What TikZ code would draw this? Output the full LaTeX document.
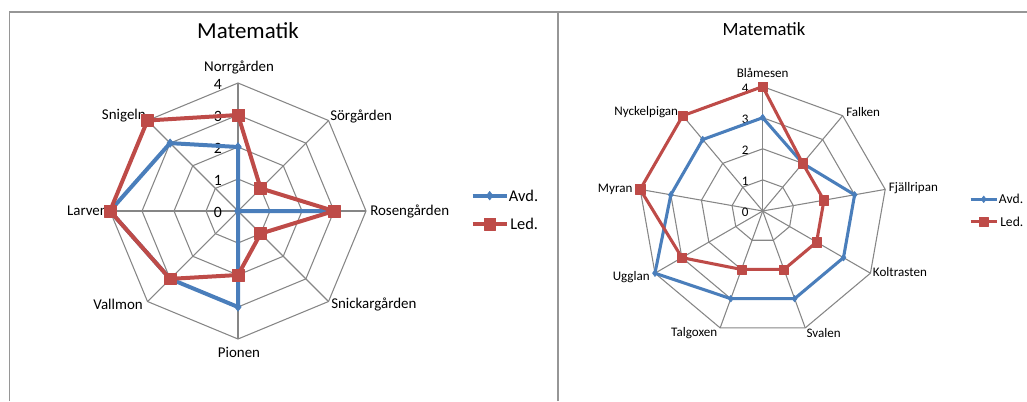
\documentclass[tikz,border=0pt]{standalone}
\usepackage{fontspec}
\setmainfont{Carlito}
\usetikzlibrary{plotmarks}

\definecolor{avdblue}{RGB}{74,126,187}
\definecolor{ledred}{RGB}{190,75,72}
\definecolor{webgray}{RGB}{134,134,134}
\definecolor{framegray}{RGB}{150,150,150}

\begin{document}
\begin{tikzpicture}[x=0.75pt, y=0.75pt,
    web/.style={webgray, line width=0.8pt},
    frameline/.style={framegray, line width=1pt},
    avdL/.style={avdblue, line width=3pt, line join=round, mark=diamond*, mark size=3.2pt, mark options={solid, line width=0.5pt, fill=avdblue}},
    ledL/.style={ledred, line width=3pt, line join=round, mark=square*, mark size=4.4pt, mark options={solid, line width=0.5pt, fill=ledred}},
    avdR/.style={avdblue, line width=2.3pt, line join=round, mark=diamond*, mark size=2.5pt, mark options={solid, line width=0.4pt, fill=avdblue}},
    ledR/.style={ledred, line width=2.3pt, line join=round, mark=square*, mark size=3.5pt, mark options={solid, line width=0.4pt, fill=ledred}},
    labL/.style={inner sep=0pt, font=\fontsize{11.2}{13}\selectfont},
    numL/.style={inner sep=0pt, anchor=east, font=\fontsize{11.8}{13}\selectfont},
    labR/.style={inner sep=0pt, font=\fontsize{9.8}{11}\selectfont},
    numR/.style={inner sep=0pt, anchor=east, font=\fontsize{9.8}{11}\selectfont},
    legL/.style={inner sep=0pt, anchor=west, font=\fontsize{12.3}{14}\selectfont},
    legR/.style={inner sep=0pt, anchor=west, font=\fontsize{10.2}{12}\selectfont}]

    \useasboundingbox (0,0) rectangle (1027,401);

    % ==========================================
    % 1. FRAME
    % ==========================================
    \draw[frameline] (9.5,0) -- (9.5,389) -- (1027,389);
    \draw[frameline] (558,0) -- (558,389);

    % ==========================================
    % 2. LEFT CHART (8 axes)
    % ==========================================
    \node[font=\fontsize{17.2}{19}\selectfont] (titleL) at (248,370) {Matematik};

    \begin{scope}[shift={(238,190)}]
        % web
        \foreach \k in {1,...,4} {
            \draw[web] (90:32*\k) \foreach \i in {1,...,7} { -- ({90-45*\i}:{32*\k}) } -- cycle;
        }
        \foreach \i in {0,...,7} {
            \draw[web] (0,0) -- ({90-45*\i}:128);
        }
        % scale
        \foreach \k in {0,...,4} {
            \node[numL] (scaleL\k) at (-16,{32*\k-1.5}) {\k};
        }
        % axis labels
        \node[labL] (norr)   at (1,144)       {Norrgården};
        \node[labL, anchor=west] (sor)    at (92,95)   {Sörgården};
        \node[labL, anchor=west] (rosen)  at (132,0)   {Rosengården};
        \node[labL, anchor=west] (snick)  at (93,-93)  {Snickargården};
        \node[labL] (pionen) at (1,-141)      {Pionen};
        \node[labL, anchor=east] (vallmon) at (-95,-93) {Vallmon};
        \node[labL, anchor=east] (larven)  at (-130,0)  {Larven};
        \node[labL, anchor=east] (snigeln) at (-92,95)  {Snigeln};

        % data
        \draw[avdL] plot coordinates {(90:64) (45:0) (0:96) (-45:0) (-90:96) (-135:96) (180:128) (135:96) (90:64)};
        \draw[ledL] plot coordinates {(90:96) (45:32) (0:96) (-45:32) (-90:64) (-135:96) (180:128) (135:128) (90:96)};
    \end{scope}

    % legend
    \coordinate (lavdA) at (472.7,205.3);
    \coordinate (lavdM) at (489.7,205.3);
    \coordinate (lavdB) at (506.7,205.3);
    \coordinate (lledA) at (472.7,176.7);
    \coordinate (lledM) at (489.7,176.7);
    \coordinate (lledB) at (506.7,176.7);
    \draw[avdL, mark indices={2}] plot coordinates {(lavdA) (lavdM) (lavdB)};
    \draw[ledL, mark indices={2}] plot coordinates {(lledA) (lledM) (lledB)};
    \node[legL] (lavdT) at (508.7,205.3) {Avd.};
    \node[legL] (lledT) at (510,176.7) {Led.};

    % ==========================================
    % 3. RIGHT CHART (9 axes)
    % ==========================================
    \node[font=\fontsize{14}{16}\selectfont] (titleR) at (764,372) {Matematik};

    \begin{scope}[shift={(762.7,190)}]
        % web
        \foreach \k in {1,...,4} {
            \draw[web] (90:31.1*\k) \foreach \i in {1,...,8} { -- ({90-40*\i}:{31.1*\k}) } -- cycle;
        }
        \foreach \i in {0,...,8} {
            \draw[web] (0,0) -- ({90-40*\i}:124.4);
        }
        % scale
        \foreach \k in {0,...,4} {
            \node[numR] (scaleR\k) at (-14,{31.1*\k-1.5}) {\k};
        }
        % axis labels
        \node[labR] (blames) at (0,138)       {Blåmesen};
        \node[labR, anchor=west] (falken) at (83.3,99.3)  {Falken};
        \node[labR, anchor=west] (fjall)  at (126,22.7)   {Fjällripan};
        \node[labR, anchor=west] (kolt)   at (110,-61)    {Koltrasten};
        \node[labR] (svalen) at (61,-122.3)   {Svalen};
        \node[labR] (talg)   at (-68.5,-122.3) {Talgoxen};
        \node[labR, anchor=east] (uggla)  at (-112.7,-65.7) {Ugglan};
        \node[labR, anchor=east] (myran)  at (-130,22)    {Myran};
        \node[labR, anchor=east] (nyckel) at (-84.4,99.3) {Nyckelpigan};

        % data
        \draw[avdR] plot coordinates {(90:93.3) (50:62.2) (10:93.3) (-30:93.3) (-70:93.3) (-110:93.3) (-150:124.4) (170:93.3) (130:93.3) (90:93.3)};
        \draw[ledR] plot coordinates {(90:124.4) (50:62.2) (10:62.2) (-30:62.2) (-70:62.2) (-110:62.2) (-150:93.3) (170:124.4) (130:124.4) (90:124.4)};
    \end{scope}

    % legend
    \coordinate (ravdA) at (970.7,201.7);
    \coordinate (ravdM) at (983.7,201.7);
    \coordinate (ravdB) at (996.7,201.7);
    \coordinate (rledA) at (970.7,179.3);
    \coordinate (rledM) at (983.7,179.3);
    \coordinate (rledB) at (996.7,179.3);
    \draw[avdR, mark indices={2}] plot coordinates {(ravdA) (ravdM) (ravdB)};
    \draw[ledR, mark indices={2}] plot coordinates {(rledA) (rledM) (rledB)};
    \node[legR] (ravdT) at (998.7,201.7) {Avd.};
    \node[legR] (rledT) at (1000,179.3) {Led.};

\end{tikzpicture}
\end{document}
